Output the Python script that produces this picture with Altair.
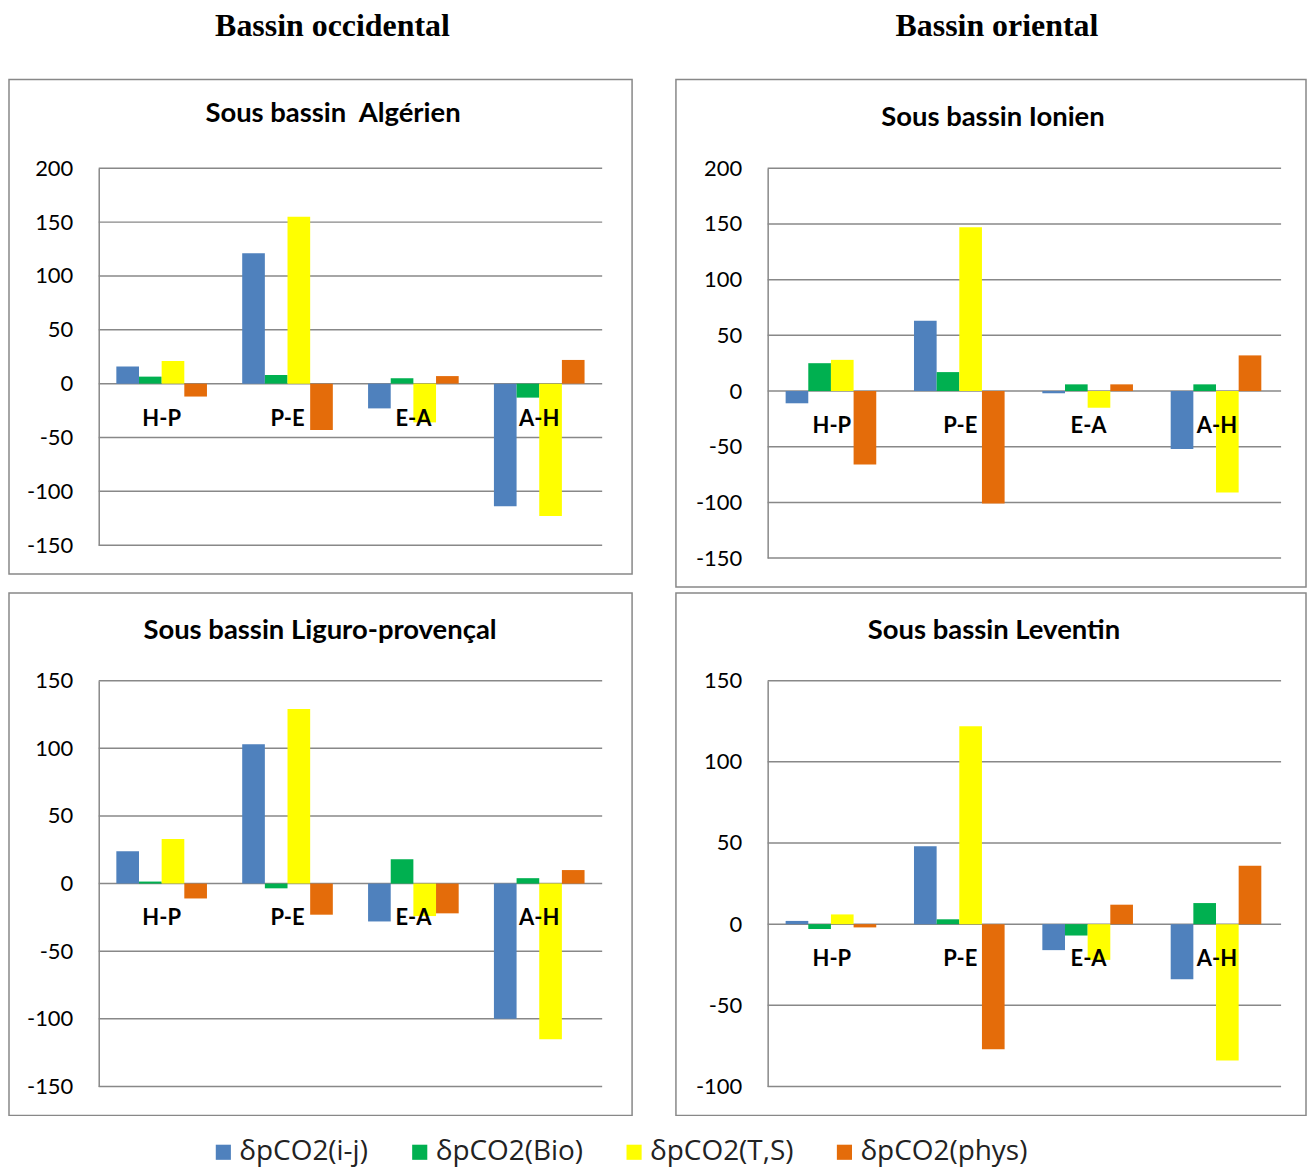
import altair as alt
import pandas as pd

categories = ["H-P", "P-E", "E-A", "A-H"]
series = ["δpCO2(i-j)", "δpCO2(Bio)", "δpCO2(T,S)", "δpCO2(phys)"]
colors = ["#4F81BD", "#00B050", "#FFFF00", "#E46C0A"]

# Sous bassin Algérien
alg_ij = [16, 121, -23, -114]
alg_bio = [6.5, 8, 5, -13]
alg_ts = [21, 155, -36, -123]
alg_phys = [-12, -43, 7, 22]

# Sous bassin Ionien
ion_ij = [-11, 63, -2, -52]
ion_bio = [25, 17, 6, 6]
ion_ts = [28, 147, -15, -91]
ion_phys = [-66, -101, 6, 32]

# Sous bassin Liguro-provençal
lig_ij = [24, 103, -28, -100]
lig_bio = [1.5, -3.5, 18, 4]
lig_ts = [33, 129, -24, -115]
lig_phys = [-11, -23, -22, 10]

# Sous bassin Leventin
lev_ij = [2, 48, -16, -34]
lev_bio = [-3, 3, -7, 13]
lev_ts = [6, 122, -22, -84]
lev_phys = [-2, -77, 12, 36]

FONT = "Lato"
GRID = "#888888"


def panel(title, vals, W, H, x0, x1, ytop, ybot, dmin, dmax, title_x, title_y):
    rows = []
    for s, arr in zip(series, vals):
        for c, v in zip(categories, arr):
            rows.append({"cat": c, "serie": s, "v": v})
    df = pd.DataFrame(rows)
    ticks = list(range(dmin, dmax + 1, 50))
    yscale = alt.Scale(domain=[dmin, dmax], range=[ybot, ytop], nice=False, zero=False)
    xscale = alt.Scale(domain=categories, range=[x0, x1], paddingInner=0.28, paddingOuter=0.14)
    yaxis = alt.Axis(offset=-x0, values=ticks, grid=False, ticks=False, domainColor=GRID,
                     domainWidth=1.5, labelFont=FONT, labelFontSize=22, labelColor="black",
                     labelPadding=26, title=None, labelExpr="'' + datum.value")
    legend = alt.Legend(orient="none", legendX=201, legendY=1062, direction="horizontal",
                        title=None, symbolType="square", symbolSize=230, labelFontSize=28,
                        labelFont="Open Sans", labelColor="#222", columnPadding=37, labelOffset=2,
                        symbolStrokeWidth=0, columns=4, labelLimit=300)

    grid = alt.Chart(pd.DataFrame({"g": ticks})).mark_rule(color=GRID, strokeWidth=1.5).encode(
        y=alt.Y("g:Q", scale=yscale, axis=yaxis),
        x=alt.value(x0),
        x2=alt.value(x1),
    )
    bars = alt.Chart(df).mark_bar().encode(
        x=alt.X("cat:N", sort=categories, scale=xscale, axis=None),
        xOffset=alt.XOffset("serie:N", sort=series, scale=alt.Scale(paddingInner=0, paddingOuter=0)),
        y=alt.Y("v:Q", scale=yscale, axis=yaxis),
        color=alt.Color("serie:N", sort=series, scale=alt.Scale(domain=series, range=colors), legend=legend),
    )
    labels = alt.Chart(pd.DataFrame({"cat": categories})).mark_text(
        dy=35, font=FONT, fontSize=22, fontWeight="bold", color="black"
    ).encode(
        x=alt.X("cat:N", sort=categories, scale=xscale, axis=None),
        y=alt.YDatum(0, scale=yscale, axis=yaxis),
        text="cat:N",
    )
    ttl = alt.Chart(pd.DataFrame({"t": [title]})).mark_text(
        font=FONT, fontSize=27.5, fontWeight="bold", color="black", baseline="middle"
    ).encode(x=alt.value(title_x), y=alt.value(title_y), text="t:N")
    return alt.layer(grid, bars, labels, ttl).properties(width=W, height=H)


p1 = panel("Sous bassin \u00a0Algérien", [alg_ij, alg_bio, alg_ts, alg_phys],
           625, 496, 90, 595, 89, 467, -150, 200, 325, 35)
p2 = panel("Sous bassin Ionien", [ion_ij, ion_bio, ion_ts, ion_phys],
           632, 509, 92, 607, 89, 480, -150, 200, 318, 39)
p3 = panel("Sous bassin Liguro-provençal", [lig_ij, lig_bio, lig_ts, lig_phys],
           625, 524, 90, 595, 88, 495, -150, 150, 312, 38)
p4 = panel("Sous bassin Leventin", [lev_ij, lev_bio, lev_ts, lev_phys],
           632, 524, 92, 607, 88, 495, -100, 150, 319, 38)

left = alt.vconcat(p1, p3, spacing=17,
                   title=alt.Title("Bassin occidental", anchor="middle", dx=12, offset=36))
right = alt.vconcat(p2, p4, spacing=4,
                    title=alt.Title("Bassin oriental", anchor="middle", dx=6, offset=36))

chart = alt.hconcat(left, right, spacing=42).properties(padding=0).configure_view(
    stroke=GRID, strokeWidth=1.5
).configure_title(
    font="Liberation Serif", fontSize=32, fontWeight="bold", color="black"
)

chart.save("out.html", embed_options={"renderer": "svg", "actions": False})
